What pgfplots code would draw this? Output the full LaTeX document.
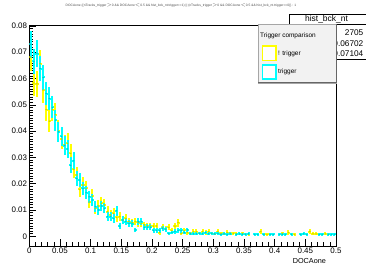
\documentclass[border=0pt]{standalone}
\usepackage{fontspec}
\setmainfont{Liberation Sans}
\usepackage{pgfplots}
\usepackage{pgfplotstable}
\pgfplotsset{compat=1.18}
\definecolor{rcyan}{RGB}{0,255,255}
\definecolor{ryellow}{RGB}{255,255,0}
\definecolor{dcyan}{RGB}{0,200,200}
\definecolor{dyellow}{RGB}{205,205,0}

% trigger (cyan)
\pgfplotstableread{
x y ey
0.0025 0.0730 0.0051
0.0075 0.0665 0.0049
0.0125 0.0695 0.0050
0.0175 0.0638 0.0048
0.0225 0.0604 0.0046
0.0275 0.0543 0.0044
0.0325 0.0524 0.0043
0.0375 0.0490 0.0042
0.0425 0.0442 0.0040
0.0475 0.0397 0.0038
0.0525 0.0380 0.0037
0.0575 0.0345 0.0035
0.0625 0.0332 0.0034
0.0675 0.0270 0.0031
0.0725 0.0287 0.0032
0.0775 0.0220 0.0028
0.0825 0.0214 0.0028
0.0875 0.0182 0.0025
0.0925 0.0166 0.0024
0.0975 0.0150 0.0023
0.1025 0.0138 0.0022
0.1075 0.0113 0.0020
0.1125 0.0100 0.0019
0.1175 0.0115 0.0020
0.1225 0.0106 0.0019
0.1275 0.0075 0.0016
0.1325 0.0075 0.0016
0.1375 0.0068 0.0016
0.1425 0.0097 0.0019
0.1475 0.0039 0.0012
0.1525 0.0062 0.0015
0.1575 0.0056 0.0014
0.1625 0.0049 0.0013
0.1675 0.0047 0.0013
0.1725 0.0024 0.0009
0.1775 0.0056 0.0014
0.1825 0.0056 0.0014
0.1875 0.0034 0.0011
0.1925 0.0034 0.0011
0.1975 0.0034 0.0011
0.2025 0.0022 0.0009
0.2075 0.0022 0.0009
0.2125 0.0022 0.0009
0.2175 0.0030 0.0010
0.2225 0.0027 0.0010
0.2275 0.0011 0.0006
0.2325 0.0014 0.0007
0.2375 0.0018 0.0008
0.2425 0.0022 0.0009
0.2475 0.0022 0.0009
0.2525 0.0014 0.0007
0.2575 0.0024 0.0009
0.2625 0.0009 0.0006
0.2675 0.0009 0.0006
0.2725 0.0009 0.0006
0.2775 0.0011 0.0006
0.2825 0.0009 0.0006
0.2875 0.0014 0.0007
0.2925 0.0009 0.0006
0.2975 0.0011 0.0006
0.3025 0.0009 0.0006
0.3075 0.0011 0.0006
0.3125 0.0007 0.0005
0.3175 0.0009 0.0006
0.3225 0.0007 0.0005
0.3275 0.0009 0.0006
0.3375 0.0007 0.0005
0.3425 0.0009 0.0006
0.3475 0.0007 0.0005
0.3525 0.0007 0.0005
0.3575 0.0009 0.0006
0.3675 0.0007 0.0005
0.3725 0.0007 0.0005
0.3825 0.0007 0.0005
0.3925 0.0007 0.0005
0.3975 0.0007 0.0005
0.4075 0.0007 0.0005
0.4125 0.0007 0.0005
0.4175 0.0007 0.0005
0.4275 0.0007 0.0005
0.4425 0.0007 0.0005
0.4475 0.0009 0.0006
0.4525 0.0007 0.0005
0.4725 0.0007 0.0005
0.4775 0.0007 0.0005
0.4875 0.0007 0.0005
0.4925 0.0007 0.0005
0.4975 0.0007 0.0005
}\trigdata

% ! trigger (yellow)
\pgfplotstableread{
x y ey
0.0025 0.0682 0.0053
0.0075 0.0583 0.0049
0.0125 0.0580 0.0049
0.0175 0.0657 0.0052
0.0225 0.0556 0.0048
0.0275 0.0482 0.0045
0.0325 0.0438 0.0043
0.0375 0.0482 0.0045
0.0425 0.0463 0.0044
0.0475 0.0400 0.0041
0.0525 0.0370 0.0039
0.0575 0.0347 0.0038
0.0625 0.0353 0.0038
0.0675 0.0315 0.0036
0.0725 0.0254 0.0033
0.0775 0.0233 0.0031
0.0825 0.0178 0.0027
0.0875 0.0195 0.0029
0.0925 0.0182 0.0028
0.0975 0.0130 0.0023
0.1025 0.0153 0.0025
0.1075 0.0106 0.0021
0.1125 0.0115 0.0022
0.1175 0.0125 0.0023
0.1225 0.0119 0.0022
0.1275 0.0094 0.0020
0.1325 0.0081 0.0018
0.1375 0.0087 0.0019
0.1425 0.0072 0.0017
0.1475 0.0075 0.0018
0.1525 0.0062 0.0016
0.1575 0.0068 0.0017
0.1625 0.0056 0.0015
0.1675 0.0052 0.0015
0.1725 0.0056 0.0015
0.1775 0.0052 0.0015
0.1825 0.0049 0.0014
0.1875 0.0043 0.0013
0.1925 0.0039 0.0013
0.1975 0.0039 0.0013
0.2025 0.0039 0.0013
0.2075 0.0039 0.0013
0.2125 0.0014 0.0008
0.2175 0.0034 0.0012
0.2225 0.0027 0.0011
0.2275 0.0034 0.0012
0.2325 0.0022 0.0010
0.2375 0.0039 0.0013
0.2425 0.0052 0.0015
0.2475 0.0011 0.0007
0.2525 0.0022 0.0010
0.2575 0.0014 0.0008
0.2625 0.0011 0.0007
0.2675 0.0018 0.0009
0.2725 0.0018 0.0009
0.2775 0.0011 0.0007
0.2825 0.0018 0.0009
0.2875 0.0014 0.0008
0.2925 0.0018 0.0009
0.2975 0.0011 0.0007
0.3025 0.0009 0.0006
0.3075 0.0018 0.0009
0.3125 0.0011 0.0007
0.3175 0.0009 0.0006
0.3225 0.0014 0.0008
0.3275 0.0011 0.0007
0.3325 0.0011 0.0007
0.3375 0.0009 0.0006
0.3475 0.0011 0.0007
0.3525 0.0007 0.0005
0.3575 0.0007 0.0005
0.3775 0.0018 0.0009
0.3875 0.0007 0.0005
0.4125 0.0011 0.0007
0.4225 0.0014 0.0008
0.4325 0.0007 0.0005
0.4575 0.0018 0.0009
0.4625 0.0009 0.0006
0.4675 0.0009 0.0006
0.4825 0.0009 0.0006
0.4875 0.0007 0.0005
}\notrigdata

\begin{document}
\begin{tikzpicture}[x=1bp,y=1bp]
\useasboundingbox (0,0) rectangle (366,267);
\begin{axis}[
  at={(29.3bp,21bp)}, anchor=south west,
  scale only axis, width=306.7bp, height=220.3bp,
  xmin=0, xmax=0.5, ymin=-0.0037, ymax=0.0801,
  xtick={0,0.05,0.1,0.15,0.2,0.25,0.3,0.35,0.4,0.45,0.5},
  ytick={0,0.01,0.02,0.03,0.04,0.05,0.06,0.07,0.08},
  minor x tick num=4, minor y tick num=9,
  xtick pos=left, ytick pos=left,
  tick align=inside,
  major tick length=7bp, minor tick length=3.5bp,
  scaled ticks=false,
  /pgf/number format/fixed, /pgf/number format/precision=2,
  /pgf/number format/assume math mode=true,
  tick label style={font=\fontsize{8}{9}\selectfont},
  xticklabel style={inner sep=2bp},
  yticklabel style={inner sep=2bp},
  axis line style={line width=0.6bp, black},
  tick style={line width=0.5bp, black},
  xlabel={DOCAone},
  xlabel style={at={(axis description cs:0.968,0)}, anchor=north east, inner sep=0pt, yshift=-12.5bp, font=\fontsize{7.3}{8}\selectfont},
  clip=true,
]
\addplot[only marks, mark=*, mark size=0.5bp, color=dyellow,
  error bars/.cd, y dir=both, y explicit, x dir=both, x fixed=0.0025,
  error mark=none, error bar style={line width=2bp, color=ryellow}]
  table[x=x, y=y, y error=ey] {\notrigdata};
\addplot[only marks, mark=*, mark size=0.5bp, color=dcyan,
  error bars/.cd, y dir=both, y explicit, x dir=both, x fixed=0.0025,
  error mark=none, error bar style={line width=2bp, color=rcyan}]
  table[x=x, y=y, y error=ey] {\trigdata};
\end{axis}

% title
\node[font=\fontsize{3.3}{4}\selectfont, text=black!70, inner sep=0pt] at (181,262)
  {DOCAone \{(nTracks\_trigger$>$0 \&\& DOCAone$<$0.5 \&\& hist\_bck\_nt.trigger==1) || (nTracks\_trigger$>$0 \&\& DOCAone$<$0.5 \&\& hist\_bck\_nt.trigger==0)\} : 1};

% stats box
\draw[fill=white, line width=0.6bp] (289,252.5) rectangle (380,208);
\draw[line width=0.6bp] (289,242.7) -- (380,242.7);
\node[font=\fontsize{8.5}{9}\selectfont, inner sep=0pt] at (326.5,247.6) {hist\_bck\_nt};
\begin{scope}[font=\fontsize{8.3}{9}\selectfont, inner sep=0pt]
\node[anchor=east] at (363.5,233.9) {2705};
\node[anchor=east] at (363.5,223.3) {0.06702};
\node[anchor=east] at (363.5,213.3) {0.07104};
\end{scope}

% legend
\draw[fill=black!5, draw=black!35, line width=0.6bp] (258.3,243) rectangle (336.7,184);
\draw[black!60, line width=1bp] (258.3,184) -- (336.7,184) -- (336.7,243);
\begin{scope}[font=\fontsize{6.5}{7}\selectfont, inner sep=0pt]
\node[anchor=west] at (260,231) {Trigger comparison};
\draw[ryellow, line width=1.2bp, fill=white] (262.3,221) rectangle (276,206.3);
\node[anchor=west] at (278,213) {! trigger};
\draw[rcyan, line width=1.2bp, fill=white] (262.3,202) rectangle (276,188);
\node[anchor=west] at (278,194.7) {trigger};
\end{scope}
\end{tikzpicture}
\end{document}
